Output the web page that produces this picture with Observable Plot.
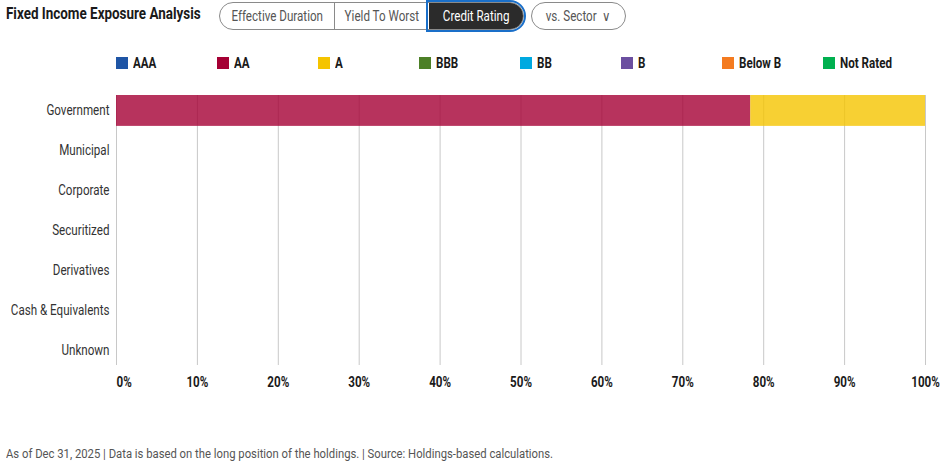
<!DOCTYPE html>
<html>
<head>
<meta charset="utf-8">
<script src="https://cdn.jsdelivr.net/npm/d3@7"></script>
<script src="https://cdn.jsdelivr.net/npm/@observablehq/plot@0.6"></script>
<style>
  html, body { margin: 0; padding: 0; background: #fff; }
  body { font-family: "Roboto", "Liberation Sans", sans-serif; color: #222; }
  #page { position: relative; width: 950px; height: 471px; overflow: hidden; }
  .nx { display: inline-block; transform: scaleX(0.83); transform-origin: left center; white-space: nowrap; }
  .nc { display: inline-block; transform: scaleX(0.83); transform-origin: center center; white-space: nowrap; }
  #title { position: absolute; left: 6px; top: 4px; font-size: 16.2px; font-weight: bold; color: #1a1a1a; }
  .seg { position: absolute; top: 2px; height: 26px; display: flex; border: 1px solid #8a8a8a; border-radius: 14px; box-sizing: content-box; }
  .seg div { font-size: 14px; color: #555; line-height: 26px; text-align: center; box-sizing: border-box; }
  .seg .sep { border-left: 1px solid #8a8a8a; }
  .seg .on { background: #2b2b2b; color: #fff; border-radius: 0 13px 13px 0; outline: 2px solid #1a6fc9; outline-offset: 1px; }
  #legend { position: absolute; left: 116px; top: 55px; display: flex; }
  #legend .item { width: 101px; display: flex; align-items: center; font-size: 14px; font-weight: bold; color: #1a1a1a; height: 16px; }
  #legend .sw { width: 12px; height: 12px; margin-right: 5px; flex: none; }
  #chart { position: absolute; left: 0; top: 85px; }
  #foot { position: absolute; left: 6px; top: 445px; font-size: 13.6px; color: #555; }
</style>
</head>
<body>
<div id="page">
  <div id="title"><span class="nx">Fixed Income Exposure Analysis</span></div>
  <div class="seg" style="left:219px; width:303px;">
    <div style="width:114px"><span class="nc">Effective Duration</span></div>
    <div class="sep" style="width:95px"><span class="nc">Yield To Worst</span></div>
    <div class="on" style="width:94px"><span class="nc">Credit Rating</span></div>
  </div>
  <div class="seg" style="left:531px; width:93px;">
    <div style="width:93px"><span class="nc">vs. Sector &nbsp;&#x2228;</span></div>
  </div>
  <div id="legend"></div>
  <div id="chart"></div>
  <div id="foot"><span class="nx">As of Dec 31, 2025 | Data is based on the long position of the holdings. | Source: Holdings-based calculations.</span></div>
</div>
<script>
const sectors = ["Government", "Municipal", "Corporate", "Securitized", "Derivatives", "Cash & Equivalents", "Unknown"];
const ratings = ["AAA", "AA", "A", "BBB", "BB", "B", "Below B", "Not Rated"];
const ratingColors = ["#1f55a5", "#a50034", "#f5c400", "#4d8027", "#00a9e0", "#6b4fa0", "#f47b20", "#00b04f"];
const governmentValues  = [0, 78.4, 21.6, 0, 0, 0, 0, 0];
const municipalValues   = [0, 0, 0, 0, 0, 0, 0, 0];
const corporateValues   = [0, 0, 0, 0, 0, 0, 0, 0];
const securitizedValues = [0, 0, 0, 0, 0, 0, 0, 0];
const derivativesValues = [0, 0, 0, 0, 0, 0, 0, 0];
const cashValues        = [0, 0, 0, 0, 0, 0, 0, 0];
const unknownValues     = [0, 0, 0, 0, 0, 0, 0, 0];
const xTicks = [0, 10, 20, 30, 40, 50, 60, 70, 80, 90, 100];

const valuesBySector = [governmentValues, municipalValues, corporateValues, securitizedValues, derivativesValues, cashValues, unknownValues];
const data = [];
sectors.forEach((s, i) => ratings.forEach((r, j) => data.push({sector: s, rating: r, value: valuesBySector[i][j]})));

// legend
const legend = document.getElementById("legend");
ratings.forEach((r, i) => {
  const item = document.createElement("div");
  item.className = "item";
  item.innerHTML = `<span class="sw" style="background:${ratingColors[i]}"></span><span class="nx">${r}</span>`;
  legend.appendChild(item);
});

const chart = Plot.plot({
  width: 950,
  height: 310,
  marginLeft: 116,
  marginRight: 25,
  marginTop: 10,
  marginBottom: 30,
  style: {fontFamily: '"Roboto", "Liberation Sans", sans-serif', background: "#fff"},
  x: {domain: [0, 100], ticks: xTicks, tickFormat: d => d + "%", label: null},
  y: {domain: sectors, paddingInner: 0.225, paddingOuter: 0, align: 0, round: false, label: null},
  color: {domain: ratings, range: ratingColors},
  marks: [
    Plot.gridX(xTicks, {stroke: "#c8c8c8", strokeOpacity: 1, strokeWidth: 1}),
    Plot.barX(data.filter(d => d.value > 0), Plot.stackX({x: "value", y: "sector", fill: "rating", order: ratings, fillOpacity: 0.8})),
    Plot.axisX({ticks: xTicks, tickFormat: d => d + "%", tickSize: 0, tickPadding: 11.5, fontSize: 14, fontWeight: "bold", fill: "#1a1a1a", label: null}),
    Plot.axisY({tickSize: 0, tickPadding: 7, fontSize: 14, fill: "#333", label: null})
  ]
});
// condense text horizontally around each label's anchor point
chart.querySelectorAll("text").forEach(t => {
  const tr = t.getAttribute("transform") || "";
  t.setAttribute("transform", (tr + " scale(0.83,1)").trim());
});
// first x tick label ("0%") starts at its tick, as in the reference
const xLabels = chart.querySelectorAll('g[aria-label="x-axis tick label"] text');
if (xLabels.length) xLabels[0].setAttribute("text-anchor", "start");
document.getElementById("chart").appendChild(chart);
</script>
</body>
</html>
